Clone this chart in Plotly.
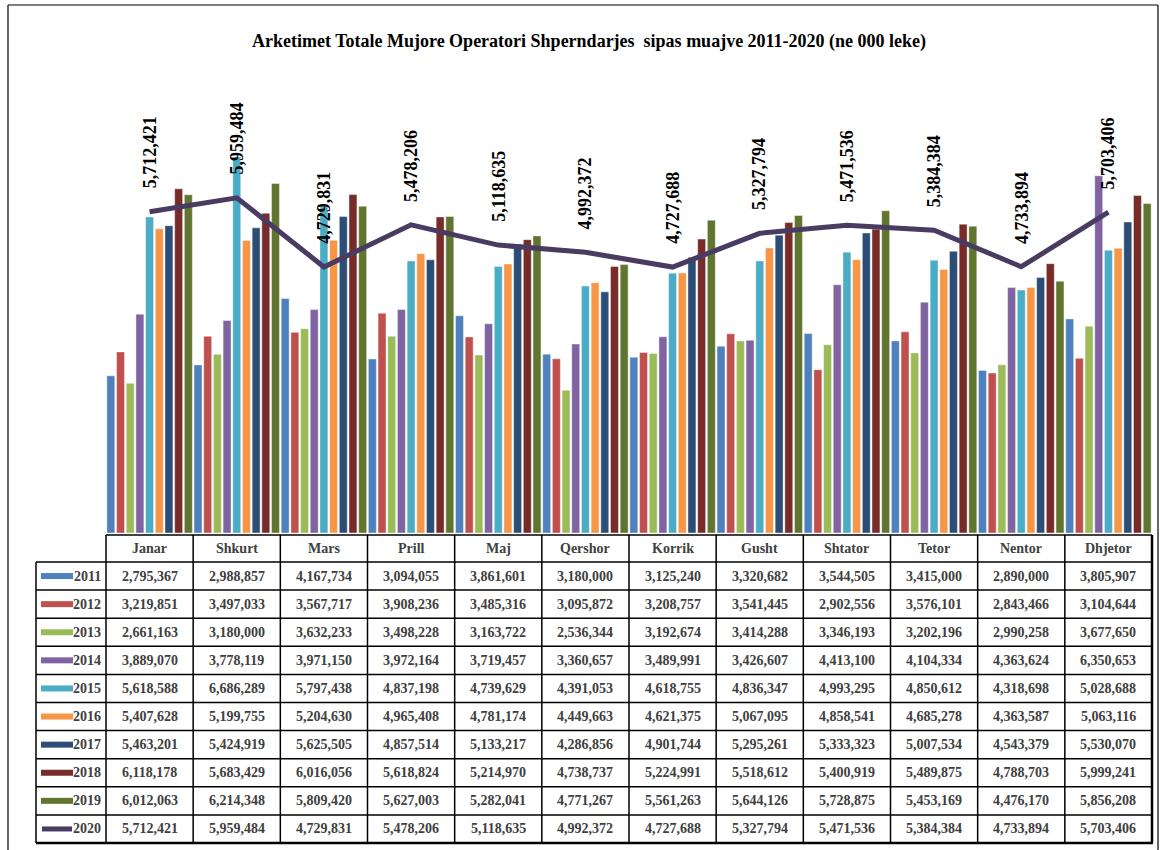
import plotly.graph_objects as go

months = ["Janar", "Shkurt", "Mars", "Prill", "Maj", "Qershor", "Korrik",
          "Gusht", "Shtator", "Tetor", "Nentor", "Dhjetor"]

v2011 = [2795367, 2988857, 4167734, 3094055, 3861601, 3180000, 3125240, 3320682, 3544505, 3415000, 2890000, 3805907]
v2012 = [3219851, 3497033, 3567717, 3908236, 3485316, 3095872, 3208757, 3541445, 2902556, 3576101, 2843466, 3104644]
v2013 = [2661163, 3180000, 3632233, 3498228, 3163722, 2536344, 3192674, 3414288, 3346193, 3202196, 2990258, 3677650]
v2014 = [3889070, 3778119, 3971150, 3972164, 3719457, 3360657, 3489991, 3426607, 4413100, 4104334, 4363624, 6350653]
v2015 = [5618588, 6686289, 5797438, 4837198, 4739629, 4391053, 4618755, 4836347, 4993295, 4850612, 4318698, 5028688]
v2016 = [5407628, 5199755, 5204630, 4965408, 4781174, 4449663, 4621375, 5067095, 4858541, 4685278, 4363587, 5063116]
v2017 = [5463201, 5424919, 5625505, 4857514, 5133217, 4286856, 4901744, 5295261, 5333323, 5007534, 4543379, 5530070]
v2018 = [6118178, 5683429, 6016056, 5618824, 5214970, 4738737, 5224991, 5518612, 5400919, 5489875, 4788703, 5999241]
v2019 = [6012063, 6214348, 5809420, 5627003, 5282041, 4771267, 5561263, 5644126, 5728875, 5453169, 4476170, 5856208]
v2020 = [5712421, 5959484, 4729831, 5478206, 5118635, 4992372, 4727688, 5327794, 5471536, 5384384, 4733894, 5703406]

bar_years = ["2011", "2012", "2013", "2014", "2015", "2016", "2017", "2018", "2019"]
bar_values = [v2011, v2012, v2013, v2014, v2015, v2016, v2017, v2018, v2019]
bar_colors = ["#4F81BD", "#C0504D", "#9BBB59", "#8064A2", "#4BACC6",
              "#F79646", "#2C4D75", "#772C2A", "#5F7530"]
line_year = "2020"
line_color = "#4A3B62"

title_text = "Arketimet Totale Mujore Operatori Shperndarjes  sipas muajve 2011-2020 (ne 000 leke)"

# ---- layout geometry (pixels) ----
W, H = 1161, 850
PLOT_L, PLOT_R, PLOT_T, PLOT_B = 106, 1152, 83, 533
SERIF = "Liberation Serif, Times New Roman, serif"
TXT = "#404040"


def py(p):
    return (PLOT_B - p) / (PLOT_B - PLOT_T)


def px(p):
    return (p - PLOT_L) / (PLOT_R - PLOT_L)


fig = go.Figure()
for yr, vals, col in zip(bar_years, bar_values, bar_colors):
    fig.add_trace(go.Bar(x=months, y=vals, name=yr, marker_color=col,
                         marker_line=dict(color="rgba(255,255,255,0.7)", width=0.6)))

fig.add_trace(go.Scatter(x=months, y=v2020, name=line_year, mode="lines",
                         line=dict(color=line_color, width=5)))

annotations = []
shapes = []

# data labels of the 2020 line
for m, v in zip(months, v2020):
    annotations.append(dict(x=m, y=v, xref="x", yref="y", text=f"{v:,}",
                            textangle=-90, showarrow=False, xanchor="center", yanchor="bottom",
                            yshift=21, font=dict(family=SERIF, size=18, color="black", weight="bold")))

# title
annotations.append(dict(x=px(589), y=py(42), xref="paper", yref="paper", text=title_text,
                        showarrow=False, xanchor="center", yanchor="middle",
                        font=dict(family=SERIF, size=18, color="black", weight="bold")))

# ---- data table ----
TAB_TOP, HEAD_BOT, TAB_BOT = 535, 562, 843
TAB_LEFT = 36
n_rows = len(bar_years) + 1
row_h = (TAB_BOT - HEAD_BOT) / n_rows
line_k = dict(color="black", width=1.5)

# header month labels
for m in months:
    annotations.append(dict(x=m, y=py((TAB_TOP + HEAD_BOT) / 2), xref="x", yref="paper", text=m,
                            showarrow=False, xanchor="center", yanchor="middle",
                            font=dict(family=SERIF, size=14, color=TXT, weight="bold")))

all_years = bar_years + [line_year]
all_values = bar_values + [v2020]
all_colors = bar_colors + [line_color]
for r, (yr, vals, col) in enumerate(zip(all_years, all_values, all_colors)):
    cy = HEAD_BOT + row_h * (r + 0.5)
    annotations.append(dict(x=px(103), y=py(cy), xref="paper", yref="paper", text=yr,
                            showarrow=False, xanchor="right", yanchor="middle",
                            font=dict(family=SERIF, size=14, color=TXT, weight="bold")))
    if yr == line_year:
        shapes.append(dict(type="line", xref="paper", yref="paper", x0=px(42), x1=px(72),
                           y0=py(cy), y1=py(cy), line=dict(color=col, width=5)))
    else:
        shapes.append(dict(type="rect", xref="paper", yref="paper", x0=px(41), x1=px(73),
                           y0=py(cy - 3), y1=py(cy + 3), line=dict(width=0), fillcolor=col))
    for m, v in zip(months, vals):
        annotations.append(dict(x=m, y=py(cy), xref="x", yref="paper", text=f"{v:,}",
                                showarrow=False, xanchor="center", yanchor="middle",
                                font=dict(family=SERIF, size=14, color=TXT, weight="bold")))

# horizontal lines
shapes.append(dict(type="line", xref="paper", yref="paper", x0=px(PLOT_L), x1=px(PLOT_R),
                   y0=py(TAB_TOP), y1=py(TAB_TOP), line=line_k))
for r in range(n_rows):
    yy = HEAD_BOT + row_h * r
    shapes.append(dict(type="line", xref="paper", yref="paper", x0=px(TAB_LEFT), x1=px(PLOT_R),
                       y0=py(yy), y1=py(yy), line=line_k))
shapes.append(dict(type="line", xref="paper", yref="paper", x0=px(TAB_LEFT), x1=px(PLOT_R + 1),
                   y0=py(TAB_BOT), y1=py(TAB_BOT), line=dict(color="black", width=2.5)))
# vertical lines
shapes.append(dict(type="line", xref="paper", yref="paper", x0=px(TAB_LEFT), x1=px(TAB_LEFT),
                   y0=py(HEAD_BOT), y1=py(TAB_BOT), line=line_k))
shapes.append(dict(type="line", xref="paper", yref="paper", x0=px(PLOT_L), x1=px(PLOT_L),
                   y0=py(TAB_TOP), y1=py(TAB_BOT), line=line_k))
for i in range(len(months) - 1):
    shapes.append(dict(type="line", xref="x", yref="paper", x0=i + 0.5, x1=i + 0.5,
                       y0=py(TAB_TOP), y1=py(TAB_BOT), line=line_k))
shapes.append(dict(type="line", xref="paper", yref="paper", x0=px(PLOT_R), x1=px(PLOT_R),
                   y0=py(TAB_TOP), y1=py(TAB_BOT), line=dict(color="black", width=2.5)))

# outer frame (left, top, right)
shapes.append(dict(type="line", xref="paper", yref="paper", x0=px(8), x1=px(8),
                   y0=py(5), y1=py(860), line=dict(color="black", width=1.2)))
shapes.append(dict(type="line", xref="paper", yref="paper", x0=px(8), x1=px(1158),
                   y0=py(5), y1=py(5), line=dict(color="black", width=1.2)))
shapes.append(dict(type="line", xref="paper", yref="paper", x0=px(1158), x1=px(1158),
                   y0=py(5), y1=py(860), line=dict(color="black", width=1.2)))

fig.update_layout(
    width=W, height=H,
    margin=dict(l=PLOT_L, r=W - PLOT_R, t=PLOT_T, b=H - PLOT_B),
    paper_bgcolor="white", plot_bgcolor="white",
    barmode="group", bargap=0.0, bargroupgap=0.18,
    showlegend=False,
    xaxis=dict(visible=False, range=[-0.5, 11.5]),
    yaxis=dict(visible=False, range=[0, 8000000]),
    annotations=annotations, shapes=shapes,
)

fig.write_html("out.html", config={"displayModeBar": False},
               post_script="document.body.style.margin='0';document.body.style.overflow='hidden';")
